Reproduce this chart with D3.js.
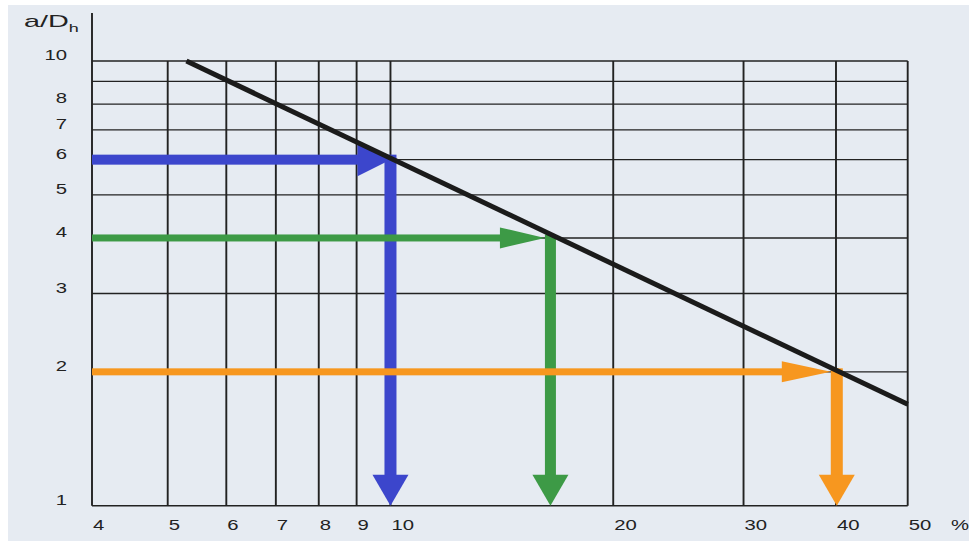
<!DOCTYPE html>
<html>
<head>
<meta charset="utf-8">
<script src="https://cdn.jsdelivr.net/npm/d3@7"></script>
<style>
    body { margin: 0; background: #ffffff; }
    text { font-family: "Liberation Sans", Arial, sans-serif; fill: #222; }
</style>
</head>
<body>
<div id="chart"></div>
<script>
// chart data
const xTicks = [4, 5, 6, 7, 8, 9, 10, 20, 30, 40, 50]
const yTicks = [1, 2, 3, 4, 5, 6, 7, 8, 9, 10]
const yLabels = [1, 2, 3, 4, 5, 6, 7, 8, 10]
const curveX = [5.3, 50]
const curveY = [10, 1.69]
const readY = [6, 4, 2]
const readX = [10, 16.45, 40.1]
const readColors = ["#3c46cc", "#3d9a46", "#f7971f"]

let width = 971
let height = 541
let left = 92

let svg = d3.select("#chart")
    .append("svg")
    .attr("width", width)
    .attr("height", height)

svg.append("rect")
    .attr("x", 8).attr("y", 5)
    .attr("width", width - 10).attr("height", height - 5)
    .style("fill", "#e6ebf2")

let x = d3.scaleLog()
    .domain([4, 50])
    .range([96, 907.7])

let y = d3.scaleLog()
    .domain([1, 10])
    .range([505.7, 61])

// x position of a tick, the 4 sits on the frame
let gx = d => d == 4 ? left : x(d)

let grid = svg.append("g").style("stroke", "#222")

// horizontal lines
grid.selectAll(".hl")
    .data(yTicks)
    .enter()
    .append("line")
    .attr("x1", left).attr("x2", x(50))
    .attr("y1", d => y(d)).attr("y2", d => y(d))
    .style("stroke-width", 1.4)

// vertical lines
grid.selectAll(".vl")
    .data(xTicks)
    .enter()
    .append("line")
    .attr("x1", gx).attr("x2", gx)
    .attr("y1", d => d == 4 ? 13 : y(10)).attr("y2", y(1))
    .style("stroke-width", 1.9)

// y labels
svg.selectAll(".ylab")
    .data(yLabels)
    .enter()
    .append("text")
    .attr("text-anchor", "end")
    .attr("transform", d => "translate(67," + (y(d) - 1) + ") scale(1.45,1)")
    .style("font-size", "14px")
    .text(d => d)

// x labels
svg.selectAll(".xlab")
    .data(xTicks)
    .enter()
    .append("text")
    .attr("transform", d => "translate(" + (gx(d) + 1) + ",530) scale(1.45,1)")
    .style("font-size", "14px")
    .text(d => d)

svg.append("text")
    .attr("transform", "translate(951,530) scale(1.45,1)")
    .style("font-size", "14px")
    .text("%")

let ylabel = svg.append("text")
    .attr("transform", "translate(24,27) scale(1.8,1)")
    .style("font-size", "16px")
ylabel.append("tspan").text("a/D")
ylabel.append("tspan").attr("dy", 5).style("font-size", "10px").text("h")

// reading arrows
let arrows = readY.map((v, i) => ({
    x: readX[i], y: v, color: readColors[i],
    hw: [10, 7, 7][i], vw: [12, 11, 12][i],
    hl: [33, 45, 49][i], hh: [33, 21, 21][i]
}))

let ag = svg.append("g")

arrows.forEach(a => {
    let px = x(a.x)
    let py = y(a.y)
    let tipX = a.hh > 30 ? px : px - a.vw / 2
    let baseX = tipX - a.hl
    let g = ag.append("g").style("fill", a.color)

    g.append("rect")
        .attr("x", left).attr("y", py - a.hw / 2)
        .attr("width", baseX - left + 1).attr("height", a.hw)

    g.append("path")
        .attr("d", "M" + baseX + "," + (py - a.hh / 2) + "L" + tipX + "," + py + "L" + baseX + "," + (py + a.hh / 2) + "Z")

    let bottom = y(1)
    let headTop = bottom - 31
    g.append("rect")
        .attr("x", px - a.vw / 2).attr("y", py - a.hw / 2)
        .attr("width", a.vw).attr("height", headTop - py + a.hw / 2 + 1)

    g.append("path")
        .attr("d", "M" + (px - 18) + "," + headTop + "L" + (px + 18) + "," + headTop + "L" + px + "," + bottom + "Z")
})

// main curve
svg.append("path")
    .datum(curveX.map((d, i) => [d, curveY[i]]))
    .attr("d", d3.line().x(d => x(d[0])).y(d => y(d[1])))
    .style("stroke", "#1b1b1b")
    .style("stroke-width", 5)
    .style("fill", "none")
</script>
</body>
</html>
